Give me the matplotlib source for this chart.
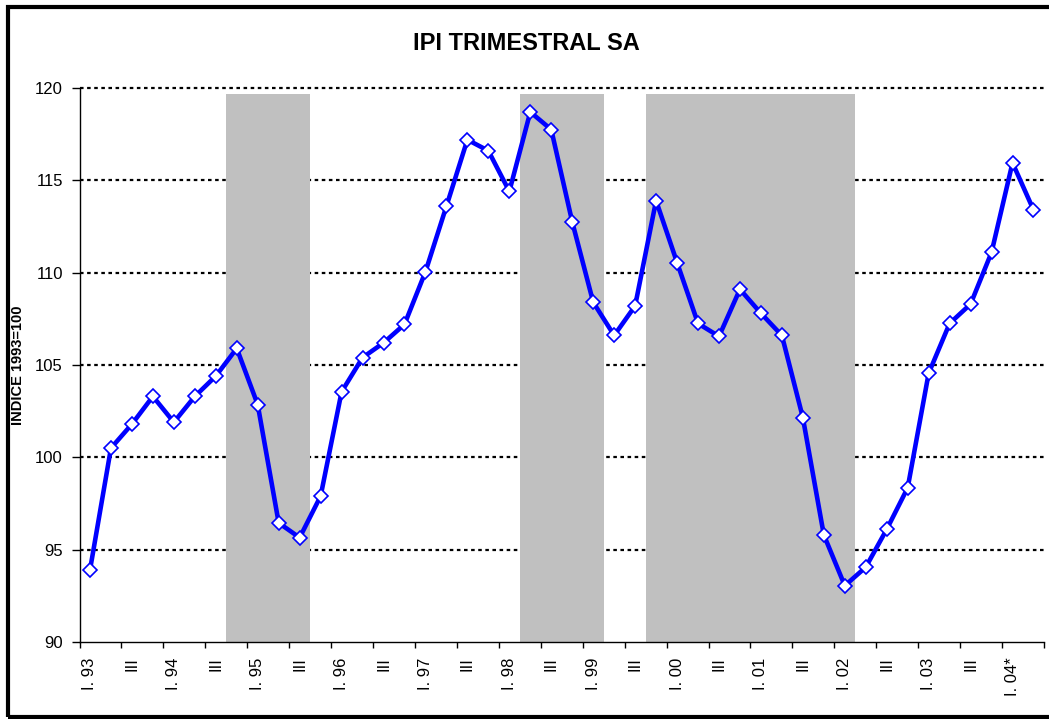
import matplotlib
matplotlib.use("Agg")
import matplotlib.pyplot as plt
from matplotlib.patches import Rectangle

plt.rcParams['font.family'] = ['Liberation Sans', 'DejaVu Sans']

# IPI trimestral, I.93 .. II.04
ipi = [93.9, 100.5, 101.8, 103.3, 101.9, 103.3, 104.4, 105.9,
       102.85, 96.45, 95.65, 97.9, 103.55, 105.4, 106.2, 107.2,
       110.05, 113.6, 117.2, 116.6, 114.4, 118.7, 117.75, 112.75,
       108.4, 106.6, 108.2, 113.9, 110.55, 107.25, 106.55, 109.1,
       107.8, 106.6, 102.15, 95.8, 93.05, 94.05, 96.1, 98.35,
       104.55, 107.25, 108.3, 111.1, 115.95, 113.4]

# shaded periods (start, end) in quarter index
shade_start = [6.5, 20.5, 26.5]
shade_end = [10.5, 24.5, 36.5]
shade_top = 119.7

tick_labels = []
for yy in ['93', '94', '95', '96', '97', '98', '99', '00', '01', '02', '03']:
    tick_labels.append('I. ' + yy)
    tick_labels.append('III')
tick_labels.append('I. 04*')

fig = plt.figure(figsize=(10.49, 7.19), dpi=100)
ax = fig.add_axes([0.0758, 0.1071, 0.9194, 0.7705])

x = list(range(len(ipi)))

# grid first, shading on top of it
for v in [95, 100, 105, 110, 115, 120]:
    ax.axhline(v, color='black', lw=1.6, ls=(0, (1.6, 1.6)), zorder=1,
               clip_on=False)

for s, e in zip(shade_start, shade_end):
    ax.add_patch(Rectangle((s, 90), e - s, shade_top - 90,
                           facecolor='#c0c0c0', edgecolor='none', zorder=2))

ax.plot(x, ipi, color='#0000ff', lw=3.3, marker='D', ms=7.5,
        mfc='white', mec='#0000ff', mew=1.2, zorder=3)

ax.set_xlim(-0.5, len(ipi) - 0.5)
ax.set_ylim(90, 120)

ax.set_xticks(range(0, len(tick_labels) * 2, 2))
ax.set_xticklabels(tick_labels, rotation=90, fontsize=12)
ax.set_xticks([i - 0.5 for i in range(0, len(ipi) + 1, 2)], minor=True)
ax.tick_params(axis='x', which='major', length=0, pad=11)
ax.tick_params(axis='x', which='minor', length=4, direction='out', width=1)

ax.set_yticks([90, 95, 100, 105, 110, 115, 120])
ax.tick_params(axis='y', length=6, direction='out', width=1, pad=6, labelsize=12)

for side in ['top', 'right']:
    ax.spines[side].set_visible(False)
ax.spines['left'].set_linewidth(1)
ax.spines['bottom'].set_linewidth(1)

fig.text(0.5015, 0.94, 'IPI TRIMESTRAL SA', ha='center', va='center',
         fontsize=17, fontweight='bold')
fig.text(0.0176, 0.492, 'INDICE 1993=100', ha='center', va='center',
         rotation=90, fontsize=10.5, fontweight='bold')

# outer frame of the chart
fig.patches.append(Rectangle((8 / 1049, 2 / 719), 1.1, 710 / 719,
                             transform=fig.transFigure, fill=False,
                             edgecolor='black', lw=3))

fig.savefig('out.png', dpi=100)
